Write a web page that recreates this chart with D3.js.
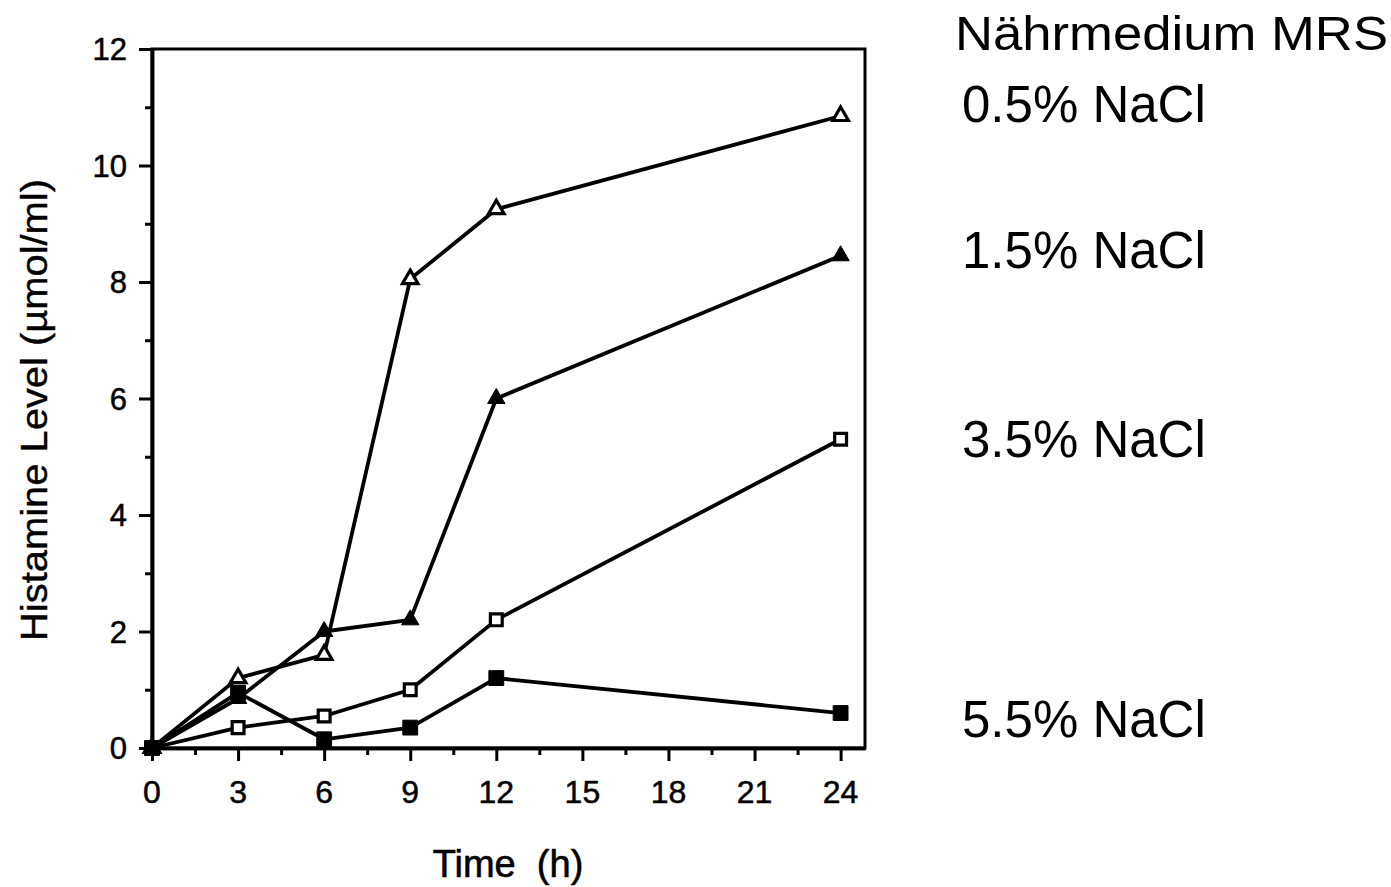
<!DOCTYPE html>
<html>
<head>
<meta charset="utf-8">
<script src="https://cdn.jsdelivr.net/npm/d3@7/dist/d3.min.js"></script>
<style>
  html, body { margin: 0; padding: 0; background: #fff; }
  svg { display: block; }
</style>
</head>
<body>
<svg id="chart" width="1391" height="887"></svg>
<script>
// Sampling times (h)
const hours = [0, 3, 6, 9, 12, 24];

// Histamine level (µmol/ml) per NaCl concentration in MRS medium
const nacl05 = [0, 1.2, 1.6, 8.05, 9.25, 10.85];
const nacl15 = [0, 0.85, 2.0, 2.2, 6.0, 8.45];
const nacl35 = [0, 0.35, 0.55, 1.0, 2.2, 5.3];
const nacl55 = [0, 0.95, 0.15, 0.35, 1.2, 0.6];

const seriesNames = ["0.5% NaCl", "1.5% NaCl", "3.5% NaCl", "5.5% NaCl"];
const heading = "Nährmedium MRS";

const xTickValues = [0, 3, 6, 9, 12, 15, 18, 21, 24];
const xMinorValues = [1.5, 4.5, 7.5, 10.5, 13.5, 16.5, 19.5, 22.5];
const yTickValues = [0, 2, 4, 6, 8, 10, 12];
const yMinorValues = [1, 3, 5, 7, 9, 11];

const xTitle = "Time  (h)";
const yTitle = "Histamine Level (µmol/ml)";

// ---- layout ----
const plotL = 152, plotR = 865, plotT = 49, plotB = 748;
const svg = d3.select("#chart");

const x = d3.scaleLinear().domain([0, 24.85]).range([plotL, plotR]);
const y = d3.scaleLinear().domain([0, 12]).range([plotB, plotT]);

const tickFont = "'Liberation Sans', Arial, Helvetica, sans-serif";

// frame
svg.append("rect")
  .attr("x", plotL).attr("y", plotT)
  .attr("width", plotR - plotL).attr("height", plotB - plotT)
  .attr("fill", "none").attr("stroke", "#000").attr("stroke-width", 3);

// x axis: major and minor ticks
const xAxis = svg.append("g").attr("transform", `translate(0,${plotB})`)
  .call(d3.axisBottom(x).tickValues(xTickValues).tickSize(13).tickSizeOuter(0).tickFormat(""));
const xMinor = svg.append("g").attr("transform", `translate(0,${plotB})`)
  .call(d3.axisBottom(x).tickValues(xMinorValues).tickSize(7).tickSizeOuter(0).tickFormat(""));

// y axis: major and minor ticks
const yAxis = svg.append("g").attr("transform", `translate(${plotL},0)`)
  .call(d3.axisLeft(y).tickValues(yTickValues).tickSize(13).tickSizeOuter(0).tickFormat(""));
const yMinor = svg.append("g").attr("transform", `translate(${plotL},0)`)
  .call(d3.axisLeft(y).tickValues(yMinorValues).tickSize(7).tickSizeOuter(0).tickFormat(""));

[xAxis, xMinor, yAxis, yMinor].forEach(g => {
  g.select(".domain").attr("stroke", "#000").attr("stroke-width", 3.5);
  g.selectAll(".tick line").attr("stroke", "#000").attr("stroke-width", 3);
});

// tick labels
svg.append("g").selectAll("text").data(xTickValues).join("text")
  .attr("x", d => x(d)).attr("y", 803)
  .attr("text-anchor", "middle")
  .attr("font-family", tickFont).attr("font-size", 32)
  .attr("fill", "#000").attr("stroke", "#000").attr("stroke-width", 0.5)
  .text(d => d);

svg.append("g").selectAll("text").data(yTickValues).join("text")
  .attr("x", 127).attr("y", d => y(d) + 11)
  .attr("text-anchor", "end")
  .attr("font-family", tickFont).attr("font-size", 31)
  .attr("fill", "#000").attr("stroke", "#000").attr("stroke-width", 0.5)
  .text(d => d);

// axis titles
svg.append("text")
  .attr("x", 508).attr("y", 877)
  .attr("text-anchor", "middle")
  .attr("font-family", tickFont).attr("font-size", 38)
  .attr("fill", "#000").attr("stroke", "#000").attr("stroke-width", 0.6)
  .attr("xml:space", "preserve")
  .text(xTitle);

svg.append("text")
  .attr("transform", "translate(47,410) rotate(-90)")
  .attr("text-anchor", "middle")
  .attr("font-family", tickFont).attr("font-size", 36)
  .attr("textLength", 462).attr("lengthAdjust", "spacingAndGlyphs")
  .attr("fill", "#000").attr("stroke", "#000").attr("stroke-width", 0.4)
  .text(yTitle);

// series
const series = [
  { values: nacl05, shape: d3.symbolTriangle, filled: false },
  { values: nacl15, shape: d3.symbolTriangle, filled: true },
  { values: nacl35, shape: d3.symbolSquare, filled: false },
  { values: nacl55, shape: d3.symbolSquare, filled: true }
];

const line = d3.line().x(d => x(d[0])).y(d => y(d[1]));

const lineLayer = svg.append("g");
const markLayer = svg.append("g");

series.forEach(s => {
  const pts = hours.map((h, i) => [h, s.values[i]]);
  lineLayer.append("path")
    .datum(pts)
    .attr("d", line)
    .attr("fill", "none").attr("stroke", "#000")
    .attr("stroke-width", 3.8).attr("stroke-linejoin", "round");
});

series.forEach(s => {
  const pts = hours.map((h, i) => [h, s.values[i]]);
  const isTri = s.shape === d3.symbolTriangle;
  const size = s.filled ? (isTri ? 130 : 220) : (isTri ? 105 : 140);
  markLayer.append("g").selectAll("path").data(pts).join("path")
    .attr("transform", d => `translate(${x(d[0])},${y(d[1])})`)
    .attr("d", d3.symbol().type(s.shape).size(size))
    .attr("fill", s.filled ? "#000" : "#fff")
    .attr("stroke", "#000")
    .attr("stroke-width", s.filled ? 1 : 3.2);
});

// right-hand annotation
const annoFont = "Arial, 'Liberation Sans', Helvetica, sans-serif";
svg.append("text")
  .attr("x", 955).attr("y", 50)
  .attr("font-family", annoFont).attr("font-size", 48)
  .attr("textLength", 433).attr("lengthAdjust", "spacingAndGlyphs")
  .attr("fill", "#000")
  .text(heading);

const labelBaselines = [122, 268, 457, 737];
svg.append("g").selectAll("text").data(seriesNames).join("text")
  .attr("x", 962).attr("y", (d, i) => labelBaselines[i])
  .attr("font-family", annoFont).attr("font-size", 51)
  .attr("fill", "#000")
  .text(d => d);
</script>
</body>
</html>
